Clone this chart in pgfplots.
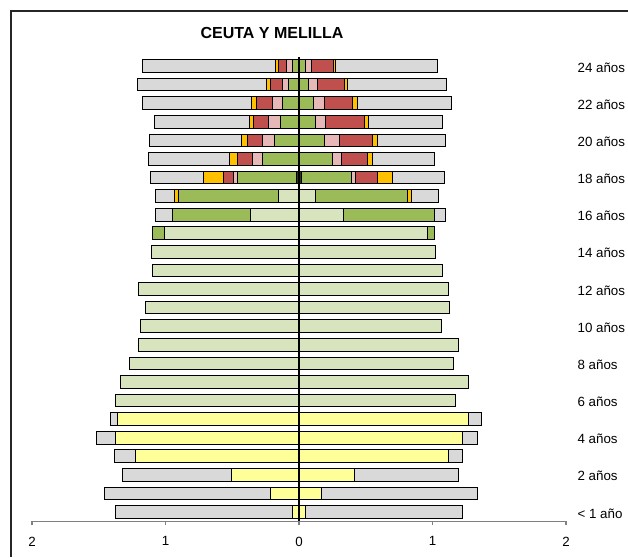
\documentclass[border=0pt]{standalone}
\usepackage{pgfplots}
\usepackage{pgfplotstable}
\pgfplotsset{compat=1.18}
\usepackage{fontspec}
\setmainfont{Liberation Sans}

\definecolor{cYe}{HTML}{FFFF99}
\definecolor{cLg}{HTML}{D7E4BD}
\definecolor{cDk}{HTML}{2F3A18}
\definecolor{cGn}{HTML}{9BBB59}
\definecolor{cPk}{HTML}{E6B9B8}
\definecolor{cRd}{HTML}{C0504D}
\definecolor{cOr}{HTML}{FFC000}
\definecolor{cGy}{HTML}{D9D9D9}

% left side values, from centre outwards
\pgfplotstableread{
age ye    lg    dk    gn    pk    rd    or    gy
0   0.046 0     0     0     0     0     0     1.330
1   0.212 0     0     0     0     0     0     1.247
2   0.506 0     0     0     0     0     0     0.815
3   1.225 0     0     0     0     0     0     0.155
4   1.376 0     0     0     0     0     0     0.143
5   1.359 0     0     0     0     0     0     0.052
6   0     1.373 0     0     0     0     0     0
7   0     1.338 0     0     0     0     0     0
8   0     1.266 0     0     0     0     0     0
9   0     1.201 0     0     0     0     0     0
10  0     1.184 0     0     0     0     0     0
11  0     1.151 0     0     0     0     0     0
12  0     1.201 0     0     0     0     0     0
13  0     1.099 0     0     0     0     0     0
14  0     1.103 0     0     0     0     0     0
15  0     1.009 0     0.090 0     0     0     0
16  0     0.360 0     0.590 0     0     0     0.127
17  0     0.150 0     0.749 0     0     0.037 0.142
18  0     0     0.017 0.445 0.030 0.075 0.145 0.402
19  0     0     0     0.275 0.070 0.115 0.060 0.607
20  0     0     0     0.182 0.093 0.109 0.048 0.691
21  0     0     0     0.137 0.090 0.115 0.032 0.707
22  0     0     0     0.122 0.078 0.120 0.037 0.819
23  0     0     0     0.075 0.050 0.092 0.025 0.966
24  0     0     0     0.050 0.047 0.060 0.020 0.993
}\leftdata

\pgfplotstableread{
age ye    lg    dk    gn    pk    rd    or    gy
0   0.046 0     0     0     0     0     0     1.176
1   0.169 0     0     0     0     0     0     1.167
2   0.418 0     0     0     0     0     0     0.778
3   1.119 0     0     0     0     0     0     0.109
4   1.225 0     0     0     0     0     0     0.112
5   1.270 0     0     0     0     0     0     0.094
6   0     1.175 0     0     0     0     0     0
7   0     1.271 0     0     0     0     0     0
8   0     1.159 0     0     0     0     0     0
9   0     1.191 0     0     0     0     0     0
10  0     1.069 0     0     0     0     0     0
11  0     1.126 0     0     0     0     0     0
12  0     1.121 0     0     0     0     0     0
13  0     1.074 0     0     0     0     0     0
14  0     1.019 0     0     0     0     0     0
15  0     0.966 0     0.052 0     0     0     0
16  0     0.335 0     0.679 0     0     0     0.082
17  0     0.127 0     0.684 0     0     0.028 0.207
18  0     0     0.020 0.375 0.025 0.170 0.110 0.390
19  0     0     0     0.250 0.070 0.190 0.040 0.467
20  0     0     0     0.190 0.110 0.249 0.037 0.509
21  0     0     0     0.125 0.077 0.285 0.032 0.554
22  0     0     0     0.112 0.080 0.210 0.037 0.706
23  0     0     0     0.073 0.064 0.202 0.022 0.745
24  0     0     0     0.050 0.045 0.167 0.013 0.766
}\rightdata

\pgfplotsset{
  pyr/.style={
    width=400.5pt, height=348.45pt, scale only axis,
    at={(24pt,-391pt)}, anchor=south west,
    xmin=-2, xmax=2, ymin=-0.5, ymax=24.5,
    xbar stacked, bar width=9.5pt, clip=false,
  },
  seg/.style={fill=#1, draw=black, line width=0.75pt},
}

\begin{document}
\begin{tikzpicture}
\useasboundingbox (0,0) rectangle (471pt,-417.75pt);
\draw[line width=0.8pt, black!85] (8.25pt,-417.75pt) -- (8.25pt,-8.25pt) -- (471pt,-8.25pt);
\node[font=\bfseries\fontsize{12}{14}\selectfont] at (204pt,-25pt) {CEUTA Y MELILLA};

\begin{axis}[pyr,
  axis x line*=bottom, axis y line*=right,
  x axis line style={draw=black!50, line width=0.9pt},
  y axis line style={draw=none},
  xtick={-2,-1,0,1,2}, xticklabels={2,1,0,1,2},
  xtick style={draw=black!50, line width=0.9pt},
  tick align=outside, major tick length=3pt,
  ytick={0,2,...,24},
  yticklabels={< 1 año,2 años,4 años,6 años,8 años,10 años,12 años,14 años,16 años,18 años,20 años,22 años,24 años},
  ytick style={draw=none},
  tick label style={font=\fontsize{10}{12}\selectfont},
  yticklabel style={anchor=west, inner sep=0pt, xshift=5.5pt, yshift=-1pt},
  xticklabel style={yshift=-5pt},
  /pgf/number format/assume math mode=true,
]
\addplot[seg=cYe] table[x expr=-\thisrow{ye}, y=age]{\leftdata};
\addplot[seg=cLg] table[x expr=-\thisrow{lg}, y=age]{\leftdata};
\addplot[seg=cDk] table[x expr=-\thisrow{dk}, y=age]{\leftdata};
\addplot[seg=cGn] table[x expr=-\thisrow{gn}, y=age]{\leftdata};
\addplot[seg=cPk] table[x expr=-\thisrow{pk}, y=age]{\leftdata};
\addplot[seg=cRd] table[x expr=-\thisrow{rd}, y=age]{\leftdata};
\addplot[seg=cOr] table[x expr=-\thisrow{or}, y=age]{\leftdata};
\addplot[seg=cGy] table[x expr=-\thisrow{gy}, y=age]{\leftdata};
\end{axis}

\begin{axis}[pyr, hide axis]
\addplot[seg=cYe] table[x=ye, y=age]{\rightdata};
\addplot[seg=cLg] table[x=lg, y=age]{\rightdata};
\addplot[seg=cDk] table[x=dk, y=age]{\rightdata};
\addplot[seg=cGn] table[x=gn, y=age]{\rightdata};
\addplot[seg=cPk] table[x=pk, y=age]{\rightdata};
\addplot[seg=cRd] table[x=rd, y=age]{\rightdata};
\addplot[seg=cOr] table[x=or, y=age]{\rightdata};
\addplot[seg=cGy] table[x=gy, y=age]{\rightdata};
\draw[line width=1.6pt, black] (axis cs:0,-0.5) -- (axis cs:0,24.5);
\end{axis}
\end{tikzpicture}
\end{document}
